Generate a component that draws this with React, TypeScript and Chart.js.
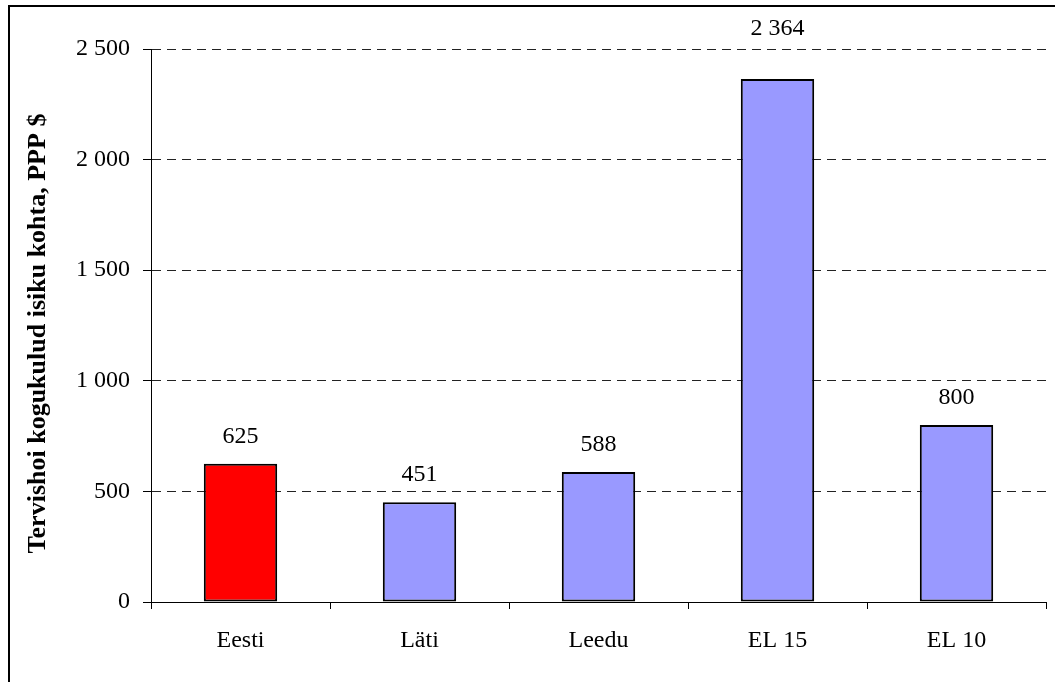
import React, { useEffect, useRef } from "react";
import { Chart, registerables } from "chart.js";

Chart.register(...registerables);

const categories = ["Eesti", "Läti", "Leedu", "EL 15", "EL 10"];
const values = [625, 451, 588, 2364, 800];
const barColors = ["#FF0000", "#9999FF", "#9999FF", "#9999FF", "#9999FF"];
const yMin = 0;
const yMax = 2500;
const yStep = 500;
const yTitle = "Tervishoi kogukulud isiku kohta, PPP $";

const FONT = '"Liberation Serif", "Times New Roman", serif';
const fmt = (v: number) =>
  String(Math.round(v)).replace(/\B(?=(\d{3})+(?!\d))/g, " ");

const labelPlugin = {
  id: "barLabels",
  afterDatasetsDraw(chart: any) {
    const ctx = chart.ctx;
    const meta = chart.getDatasetMeta(0);
    const area = chart.chartArea;
    ctx.save();
    ctx.font = `24px ${FONT}`;
    ctx.fillStyle = "#000";
    ctx.textAlign = "center";
    ctx.textBaseline = "alphabetic";
    meta.data.forEach((bar: any, i: number) => {
      let y = bar.y - 21;
      if (y - 17 < area.top + 2) y = area.top - 14;
      ctx.fillText(fmt(values[i]), bar.x, y);
    });
    ctx.restore();
  },
};

const titlePlugin = {
  id: "yTitle",
  afterDraw(chart: any) {
    const ctx = chart.ctx;
    const area = chart.chartArea;
    ctx.save();
    ctx.translate(38.6, (area.top + area.bottom) / 2 + 8);
    ctx.rotate(-Math.PI / 2);
    ctx.font = `bold 26px ${FONT}`;
    ctx.fillStyle = "#000";
    ctx.textAlign = "center";
    ctx.textBaseline = "middle";
    ctx.fillText(yTitle, 0, 0);
    ctx.restore();
  },
};

export default function App() {
  const ref = useRef<HTMLCanvasElement | null>(null);
  useEffect(() => {
    if (!ref.current) return;
    const chart = new Chart(ref.current, {
      type: "bar",
      data: {
        labels: categories,
        datasets: [
          {
            data: values,
            backgroundColor: barColors,
            borderColor: "#000",
            borderWidth: 2,
            borderSkipped: false,
            barPercentage: 0.41,
            categoryPercentage: 1,
          },
        ],
      },
      options: {
        animation: false,
        responsive: false,
        maintainAspectRatio: false,
        layout: { padding: { left: 0, top: 49, right: 9, bottom: 0 } },
        plugins: {
          legend: { display: false },
          tooltip: { enabled: false },
        },
        scales: {
          x: {
            afterFit: (s: any) => {
              s.height = 80;
            },
            grid: {
              offset: true,
              drawOnChartArea: false,
              drawTicks: true,
              tickLength: 7,
              tickColor: "#000",
              color: "#000",
            },
            border: { display: true, color: "#000", width: 1 },
            ticks: {
              color: "#000",
              font: { family: FONT, size: 24 },
              padding: 17,
            },
          },
          y: {
            min: yMin,
            max: yMax,
            afterFit: (s: any) => {
              s.width = 151;
            },
            ticks: {
              stepSize: yStep,
              color: "#000",
              font: { family: FONT, size: 24 },
              padding: 13,
              callback: (v: any) => fmt(Number(v)),
            },
            grid: {
              drawTicks: true,
              tickLength: 8,
              tickColor: "#000",
              tickBorderDash: [],
              color: (c: any) =>
                c.tick && c.tick.value === 0 ? "rgba(0,0,0,0)" : "#222",
              lineWidth: 1,
            } as any,
            border: { display: true, color: "#000", width: 1, dash: [9, 6] },
            title: { display: false },
          },
        },
      },
      plugins: [labelPlugin, titlePlugin],
    } as any);
    return () => chart.destroy();
  }, []);

  return (
    <div>
      <div
        style={{
          position: "fixed",
          left: 8,
          top: 5,
          right: 0,
          bottom: 0,
          borderTop: "2px solid #000",
          borderLeft: "2px solid #000",
          boxSizing: "border-box",
        }}
      />
      <canvas
        ref={ref}
        width={1055}
        height={682}
        style={{ position: "fixed", left: 0, top: 0, width: 1055, height: 682 }}
      />
    </div>
  );
}
